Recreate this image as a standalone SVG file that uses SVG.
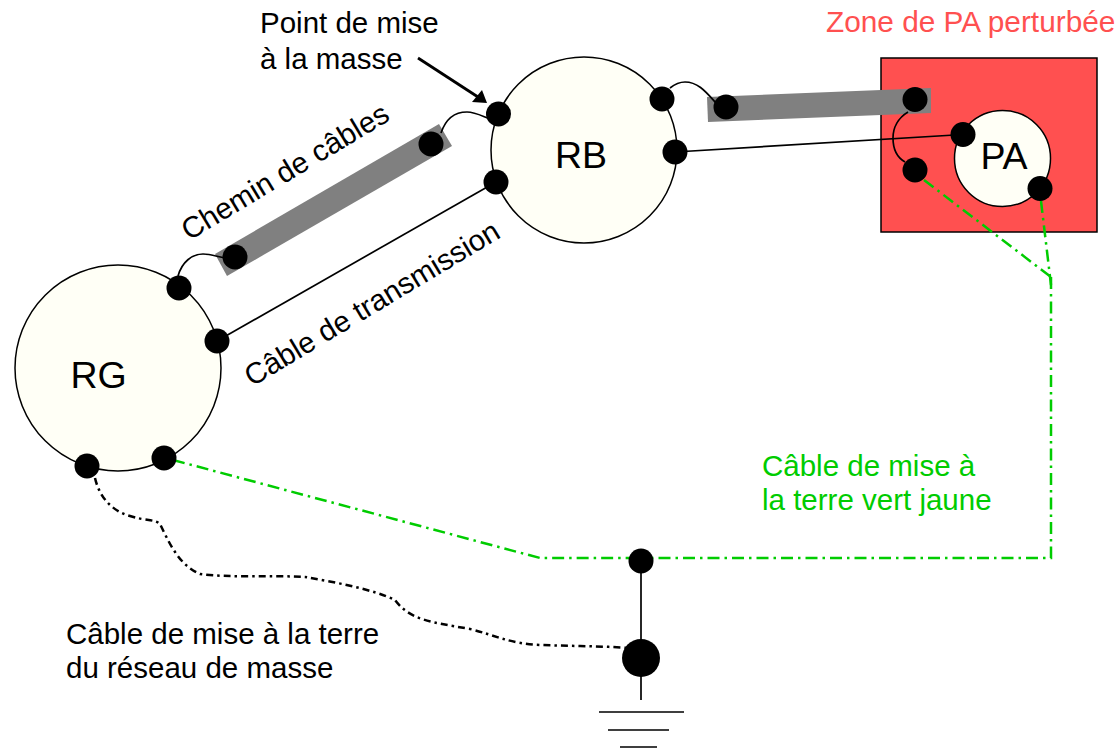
<svg xmlns="http://www.w3.org/2000/svg" width="1119" height="748" viewBox="0 0 1119 748">
<style>
text{font-family:"Liberation Sans",Arial,sans-serif;font-size:29.500px;fill:#000}
.big{font-size:37.500px}
.red{fill:#FF5050;font-size:29.800px}
.grn{fill:#00CC00}
.c{fill:#FFFFF6;stroke:#000;stroke-width:1.5}
.d{fill:#000}
.w{fill:none;stroke:#000;stroke-width:1.7}
.g{fill:none;stroke:#00CC00;stroke-width:2.500;stroke-dasharray:12 5 2.500 5}
.k{fill:none;stroke:#000;stroke-width:2.500;stroke-dasharray:7 4 2.500 4}
.t{fill:#808080}
</style>
<rect width="1119" height="748" fill="#fff"/>
<g id="zone"><rect x="881" y="58" width="216" height="174" fill="#FF5050" stroke="#000" stroke-width="1.5"/></g>
<g id="trays">
<polygon class="t" points="439,124 452,146 227,276 215,254"/>
<polygon class="t" points="707,97 931,88 931,113 708,122"/>
</g>
<g id="RB"><circle class="c" cx="584" cy="150" r="93"/><text class="big" x="581" y="168" text-anchor="middle">RB</text></g>
<g id="RG"><circle class="c" cx="118" cy="368" r="103"/><text class="big" x="98.500" y="388" text-anchor="middle">RG</text></g>
<g id="PA"><circle class="c" cx="1002.500" cy="158.500" r="48"/><text class="big" x="1004" y="169" text-anchor="middle">PA</text></g>
<g id="connectors">
<path class="w" d="M217,341L496,182"/>
<path class="w" d="M675,152L963,134.500"/>
<path class="w" d="M178,276C182,262 192,254 203,254C211,254 218,257 225,258"/>
<path class="w" d="M441,133C446,118 456,112 467,112C475,112 482,116 490,119"/>
<path class="w" d="M670,88C675,84 680,82 685,82C698,82 706,92 716,103"/>
<path class="w" d="M908,112C898,118 893,128 893,138C893,150 898,158 905,162"/>
<path class="w" d="M641,561V700"/>
<path class="w" d="M599,712H684M608,730H669M620,747H657"/>
<path class="g" d="M924,180L1051,277"/>
<path class="g" d="M1041,201L1051,285"/>
<path class="g" d="M1051,277V558H641"/>
<path class="g" d="M173,460L540,558H641"/>
<path class="k" d="M95,478C100,500 115,512 130,516C145,521 155,519 160,524C168,540 178,565 200,574C230,578 270,575 305,577C335,582 375,590 395,600C410,620 430,622 470,629C495,635 510,644 540,645C570,646 600,646 630,648"/>
<path d="M418,58L478,97" fill="none" stroke="#000" stroke-width="2.800"/>
<polygon points="487,103 472,102 482,90" fill="#000"/>
</g>
<g id="dots">
<circle class="d" cx="498.500" cy="114" r="12.500"/>
<circle class="d" cx="496" cy="182" r="12.500"/>
<circle class="d" cx="662" cy="99" r="12.500"/>
<circle class="d" cx="675" cy="152" r="12.500"/>
<circle class="d" cx="431" cy="144" r="12.500"/>
<circle class="d" cx="235" cy="257" r="12.500"/>
<circle class="d" cx="179" cy="288" r="12.500"/>
<circle class="d" cx="217" cy="341" r="12.500"/>
<circle class="d" cx="87" cy="466" r="12.500"/>
<circle class="d" cx="164" cy="458" r="12.500"/>
<circle class="d" cx="726" cy="107" r="12.500"/>
<circle class="d" cx="915" cy="99.500" r="12.500"/>
<circle class="d" cx="963" cy="134.500" r="12.500"/>
<circle class="d" cx="915" cy="170" r="12.500"/>
<circle class="d" cx="1040" cy="188.500" r="12.500"/>
<circle class="d" cx="641" cy="561" r="12.500"/>
<circle class="d" cx="641" cy="658" r="19"/>
</g>
<g id="labels">
<text x="260" y="33">Point de mise</text>
<text x="260" y="69">à la masse</text>
<text class="red" x="826" y="32">Zone de PA perturbée</text>
<text transform="translate(189,241) rotate(-31)">Chemin de câbles</text>
<text transform="translate(252,387) rotate(-31)">Câble de transmission</text>
<text class="grn" x="762" y="476">Câble de mise à</text>
<text class="grn" x="762" y="510">la terre vert jaune</text>
<text x="66" y="644">Câble de mise à la terre</text>
<text x="66" y="678">du réseau de masse</text>
</g>
</svg>
